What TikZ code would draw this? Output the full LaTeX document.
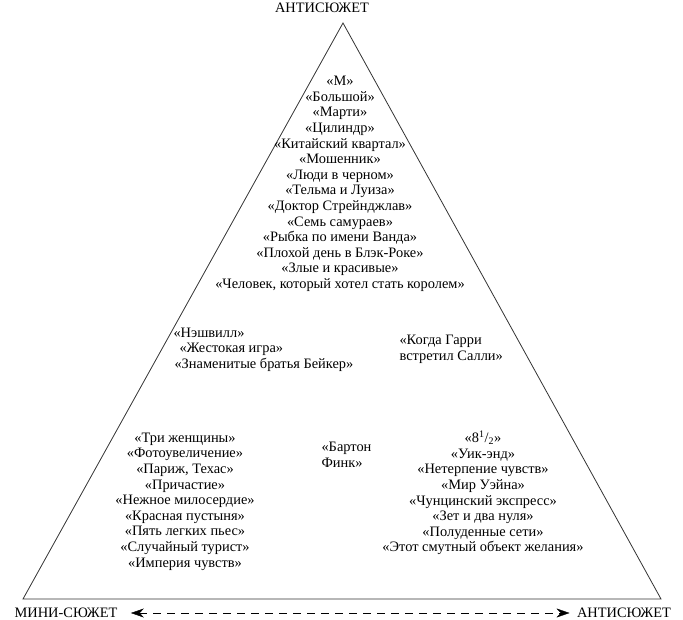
\documentclass[tikz,border=0pt]{standalone}
\usepackage{fontspec}
\setmainfont{Liberation Serif}
\usetikzlibrary{arrows.meta}

\begin{document}
\begin{tikzpicture}[x=1pt,y=-1pt,font=\fontsize{14.4}{15.6}\selectfont]
\useasboundingbox (0,0) rectangle (683,620);
\coordinate (apex) at (343,23);
\coordinate (bl) at (23,599);
\coordinate (br) at (661,599);
\draw[color=black!80, line width=0.8pt] (apex) -- (bl) -- (br) -- cycle;
\path(322,8) [black] node (anti top) {АНТИСЮЖЕТ};
% top of the pyramid
\path(340,184) [black] node[align=center] (arch) {«М»\\«Большой»\\«Марти»\\«Цилиндр»\\«Китайский квартал»\\«Мошенник»\\«Люди в черном»\\«Тельма и Луиза»\\«Доктор Стрейнджлав»\\«Семь самураев»\\«Рыбка по имени Ванда»\\«Плохой день в Блэк-Роке»\\«Злые и красивые»\\«Человек, который хотел стать королем»};
% middle
\path(170,333) [black] node[anchor=west] (nash) {«Нэшвилл»};
\path(176,349) [black] node[anchor=west] (raging) {«Жестокая игра»};
\path(171,365) [black] node[anchor=west] (baker) {«Знаменитые братья Бейкер»};
\path(396,349.5) [black] node[anchor=west,align=left] (harry) {«Когда Гарри\\встретил Салли»};
% bottom
\path(185,501.5) [black] node[align=center] (mini) {«Три женщины»\\«Фотоувеличение»\\«Париж, Техас»\\«Причастие»\\«Нежное милосердие»\\«Красная пустыня»\\«Пять легких пьес»\\«Случайный турист»\\«Империя чувств»};
\path(318,455) [black] node[anchor=west,align=left] (barton) {«Бартон\\Финк»};
\path(483,493) [black] node[align=center] (anti) {«8\textsuperscript{1}/\textsubscript{2}»\\«Уик-энд»\\«Нетерпение чувств»\\«Мир Уэйна»\\«Чунцинский экспресс»\\«Зет и два нуля»\\«Полуденные сети»\\«Этот смутный объект желания»};
% axis
\path(66,613) [black] node (mini axis) {МИНИ-СЮЖЕТ};
\path(624,613) [black] node (anti axis) {АНТИСЮЖЕТ};
\draw[color=black, dashed, dash pattern=on 8pt off 6pt, {Stealth[length=13pt,width=9pt]}-{Stealth[length=13pt,width=9pt]}, shorten <=10pt, shorten >=4pt] (mini axis) -- (anti axis);
\end{tikzpicture}
\end{document}
